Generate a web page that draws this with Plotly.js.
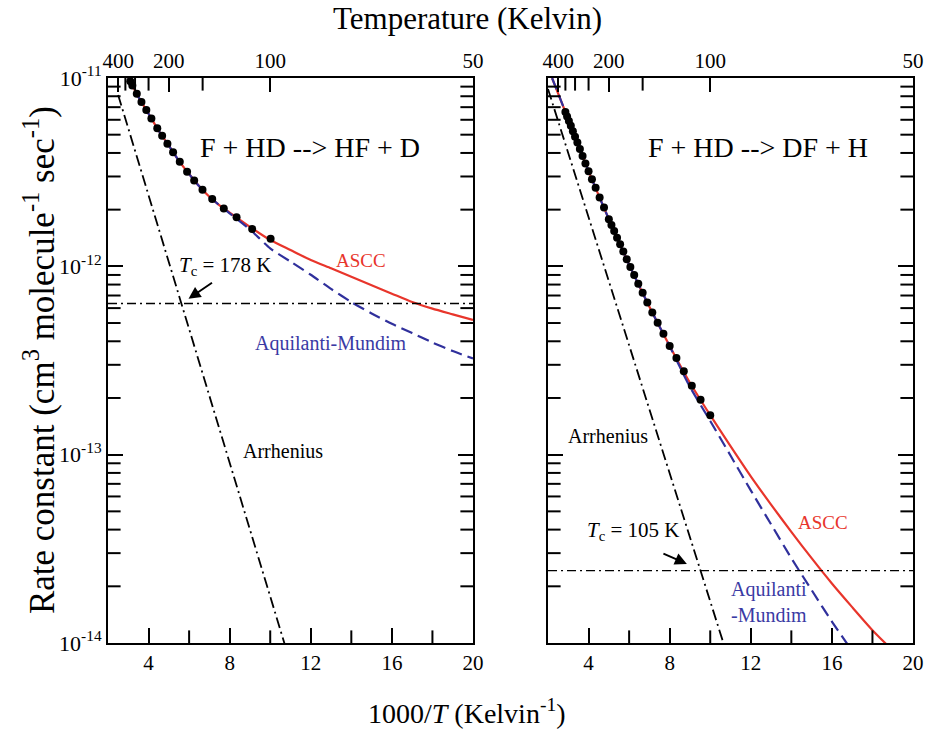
<!DOCTYPE html>
<html><head><meta charset="utf-8">
<script src="https://cdn.plot.ly/plotly-3.0.1.min.js"></script>
<style>html,body{margin:0;padding:0;background:#fff}</style>
</head><body><div id="chart" style="width:930px;height:735px"></div>
<script>
// ---------- Left panel: F + HD --> HF + D ----------
const leftCurveX = [3.0, 3.5, 4.0, 4.5, 5.0, 5.5, 6.0, 6.5, 7.0, 7.5, 8.0, 9.0, 10.0, 11.0, 12.0, 13.0, 14.0, 15.0, 16.0, 17.0, 18.0, 19.0, 20.0];
const leftAscc = [1.00e-11, 7.94e-12, 6.46e-12, 5.25e-12, 4.37e-12, 3.63e-12, 3.09e-12, 2.66e-12, 2.34e-12, 2.11e-12, 1.93e-12, 1.62e-12, 1.38e-12, 1.22e-12, 1.08e-12, 9.77e-13, 8.81e-13, 7.94e-13, 7.16e-13, 6.46e-13, 5.96e-13, 5.56e-13, 5.19e-13];
const leftAM   = [1.00e-11, 7.94e-12, 6.46e-12, 5.25e-12, 4.37e-12, 3.63e-12, 3.09e-12, 2.66e-12, 2.34e-12, 2.11e-12, 1.91e-12, 1.57e-12, 1.245e-12, 1.06e-12, 9.02e-13, 7.59e-13, 6.46e-13, 5.62e-13, 4.95e-13, 4.42e-13, 3.94e-13, 3.55e-13, 3.24e-13];
const leftDotsX = [3.10, 3.20, 3.42, 3.65, 3.89, 4.14, 4.43, 4.67, 4.93, 5.21, 5.54, 5.90, 6.25, 6.66, 7.14, 7.71, 8.34, 9.11, 10.02];
const leftDotsK = [9.60e-12, 9.12e-12, 8.24e-12, 7.46e-12, 6.76e-12, 6.10e-12, 5.41e-12, 4.93e-12, 4.48e-12, 4.04e-12, 3.59e-12, 3.18e-12, 2.86e-12, 2.55e-12, 2.28e-12, 2.03e-12, 1.82e-12, 1.58e-12, 1.40e-12];
const leftArrX = [2.5, 10.8];
const leftArrK = [8.13e-12, 9.18e-15];
const leftTcX = [2, 20];
const leftTcK = [6.35e-13, 6.35e-13];

// ---------- Right panel: F + HD --> DF + H ----------
const rightCurveX = [2.2, 3, 4, 5, 6, 7, 8, 9, 10, 11, 12, 13, 14, 15, 16, 17, 18, 19];
const rightAscc = [1.00e-11, 6.03e-12, 3.20e-12, 1.78e-12, 1.02e-12, 6.10e-13, 3.78e-13, 2.41e-13, 1.62e-13, 1.11e-13, 7.67e-14, 5.43e-14, 3.89e-14, 2.82e-14, 2.07e-14, 1.55e-14, 1.17e-14, 9.12e-15];
const rightAM   = [1.00e-11, 6.03e-12, 3.20e-12, 1.78e-12, 1.02e-12, 6.10e-13, 3.76e-13, 2.29e-13, 1.51e-13, 9.89e-14, 6.46e-14, 4.27e-14, 2.82e-14, 1.91e-14, 1.30e-14, 9.12e-15, 7.0e-15, 6.0e-15];
const rightDotsX = [2.857, 2.941, 3.030, 3.125, 3.226, 3.333, 3.448, 3.571, 3.704, 3.846, 4.0, 4.167, 4.348, 4.545, 4.762, 5.0, 5.128, 5.263, 5.405, 5.556, 5.714, 5.882, 6.061, 6.25, 6.452, 6.667, 6.897, 7.143, 7.407, 7.692, 8.0, 8.333, 8.696, 9.091, 9.524, 10.0];
const rightDotsK = [6.59e-12, 6.25e-12, 5.92e-12, 5.57e-12, 5.22e-12, 4.88e-12, 4.54e-12, 4.20e-12, 3.85e-12, 3.52e-12, 3.20e-12, 2.90e-12, 2.61e-12, 2.32e-12, 2.05e-12, 1.78e-12, 1.66e-12, 1.54e-12, 1.42e-12, 1.31e-12, 1.20e-12, 1.09e-12, 9.91e-13, 8.99e-13, 8.09e-13, 7.24e-13, 6.43e-13, 5.69e-13, 5.02e-13, 4.39e-13, 3.78e-13, 3.26e-13, 2.77e-13, 2.32e-13, 1.96e-13, 1.62e-13];
const rightArrX = [2.0, 10.7];
const rightArrK = [8.73e-12, 9.62e-15];
const rightTcX = [2, 20];
const rightTcK = [2.42e-14, 2.42e-14];

// ---------- Axis ticks ----------
const xTickVals = [4, 8, 12, 16, 20];
const xMinorVals = [6, 10, 14, 18];
const yTickVals = [1e-14, 1e-13, 1e-12, 1e-11];
const yTickText = ['10<sup>-14</sup>', '10<sup>-13</sup>', '10<sup>-12</sup>', '10<sup>-11</sup>'];
const yMinorVals = [];
[1e-14, 1e-13, 1e-12].forEach(d => { for (let m = 2; m <= 9; m++) yMinorVals.push(m * d); });
const tempMajor = [400, 200, 100, 50];
const tempMinor = [350, 300, 250, 150];

const RED = '#e8352b', BLUE = '#30309c', BLUE_TXT = '#3a3aa4';
const FONT = '"Liberation Serif", "Times New Roman", Times, serif';
const DASHDOT = '11px,4px,2px,4px';
const TCDASH = '9px,4px,2px,4px';

function panel(xa, ya, xt, X, A, M, DX, DK, AX, AK, TX, TK) {
  return [
    {x: X, y: A, xaxis: xa, yaxis: ya, mode: 'lines', line: {color: RED, width: 2.2, shape: 'spline', smoothing: 0.6}, hoverinfo: 'skip'},
    {x: X, y: M, xaxis: xa, yaxis: ya, mode: 'lines', line: {color: BLUE, width: 2.2, dash: '12px,6px', shape: 'spline', smoothing: 0.6}, hoverinfo: 'skip'},
    {x: AX, y: AK, xaxis: xa, yaxis: ya, mode: 'lines', line: {color: '#000', width: 1.8, dash: DASHDOT}, hoverinfo: 'skip'},
    {x: TX, y: TK, xaxis: xt, yaxis: ya, mode: 'lines', line: {color: '#000', width: 1.3, dash: TCDASH}, hoverinfo: 'skip'},
    {x: DX, y: DK, xaxis: xa, yaxis: ya, mode: 'markers', marker: {color: '#000', size: 8}, hoverinfo: 'skip'}
  ];
}

const data = [
  ...panel('x', 'y', 'x3', leftCurveX, leftAscc, leftAM, leftDotsX, leftDotsK, leftArrX, leftArrK, leftTcX, leftTcK),
  ...panel('x2', 'y2', 'x4', rightCurveX, rightAscc, rightAM, rightDotsX, rightDotsK, rightArrX, rightArrK, rightTcX, rightTcK)
];

const TICKFONT = {family: FONT, size: 21, color: '#000'};
const common = {showline: true, linewidth: 2, linecolor: '#000', tickcolor: '#000', showgrid: false, zeroline: false, fixedrange: true, tickfont: TICKFONT};

function bottomAxis(domain, anchor) {
  return Object.assign({}, common, {domain, anchor, range: [2, 20], ticks: 'inside', ticklen: 15, tickwidth: 2,
    tickmode: 'array', tickvals: xTickVals});
}
function topAxis(over, anchor) {
  return Object.assign({}, common, {overlaying: over, anchor, side: 'top', range: [2, 20], ticks: 'inside', ticklen: 14, tickwidth: 2,
    tickmode: 'array', tickvals: tempMajor.map(t => 1000 / t), ticktext: tempMajor.map(String)});
}
function yAxis(anchor, labels) {
  return Object.assign({}, common, {anchor, type: 'log', range: [-14, -11], mirror: 'ticks', ticks: 'inside', ticklen: 15, tickwidth: 2,
    tickmode: 'array', tickvals: yTickVals, ticktext: yTickText, showticklabels: labels,
    tickfont: {family: FONT, size: 22, color: '#000'}});
}

// minor tick marks: short line markers centred on the panel edges, half clipped away by the plot area
const MINOR = 18;  // marker size -> 9 px visible inside the frame
function edgeTicks(xa, ya) {
  const edgeL = yMinorVals.map(() => 2), edgeR = yMinorVals.map(() => 20);
  const bot = xMinorVals.map(() => 1e-14), top = tempMinor.map(() => 1e-11);
  const mk = (sym) => ({symbol: sym, size: MINOR, color: '#000', line: {color: '#000', width: 2}});
  return [
    {x: edgeL, y: yMinorVals, xaxis: xa, yaxis: ya, mode: 'markers', marker: mk('line-ew'), cliponaxis: true, hoverinfo: 'skip'},
    {x: edgeR, y: yMinorVals, xaxis: xa, yaxis: ya, mode: 'markers', marker: mk('line-ew'), cliponaxis: true, hoverinfo: 'skip'},
    {x: xMinorVals, y: bot, xaxis: xa, yaxis: ya, mode: 'markers', marker: mk('line-ns'), cliponaxis: true, hoverinfo: 'skip'},
    {x: tempMinor.map(t => 1000 / t), y: top, xaxis: xa, yaxis: ya, mode: 'markers', marker: mk('line-ns'), cliponaxis: true, hoverinfo: 'skip'}
  ];
}
data.push(...edgeTicks('x', 'y'), ...edgeTicks('x2', 'y2'));

function lbl(xref, yref, x, logy, text, size, color, extra) {
  return Object.assign({xref, yref, x, y: logy, text, showarrow: false, xanchor: 'center', yanchor: 'middle', font: {family: FONT, size, color}}, extra || {});
}

const annotations = [
  // titles
  {xref: 'paper', yref: 'paper', x: 0.446, y: 1.106, xanchor: 'center', yanchor: 'middle', text: 'Temperature (Kelvin)', showarrow: false, font: {family: FONT, size: 31, color: '#000'}},
  {xref: 'paper', yref: 'paper', x: 0.446, y: -0.122, xanchor: 'center', yanchor: 'middle', text: '1000/<i>T</i> (Kelvin<sup>-1</sup>)', showarrow: false, font: {family: FONT, size: 28, color: '#000'}},
  {xref: 'paper', yref: 'paper', x: -0.085, y: 0.5, xanchor: 'center', yanchor: 'middle', textangle: -90, text: 'Rate constant (cm<sup>3</sup> molecule<sup>-1</sup> sec<sup>-1</sup>)', showarrow: false, font: {family: FONT, size: 35, color: '#000'}},
  // left panel
  lbl('x', 'y', 11.98, -11.367, 'F + HD --> HF + D', 28, '#000'),
  lbl('x', 'y', 14.49, -11.968, 'ASCC', 19, RED),
  lbl('x', 'y', 13.01, -12.41, 'Aquilanti-Mundim', 20, BLUE_TXT),
  lbl('x', 'y', 10.64, -12.98, 'Arrhenius', 20, '#000'),
  lbl('x', 'y', 5.41, -12.0, '<i>T</i><sub>c</sub> = 178 K', 21, '#000', {xanchor: 'left'}),
  {xref: 'x', yref: 'y', x: 5.97, y: -12.172, ax: 25, ay: -17, text: '', showarrow: true, arrowhead: 2, arrowsize: 1.2, arrowwidth: 2, arrowcolor: '#000'},
  // right panel
  lbl('x2', 'y2', 12.34, -11.367, 'F + HD --> DF + H', 28, '#000'),
  lbl('x2', 'y2', 4.97, -12.899, 'Arrhenius', 20, '#000'),
  lbl('x2', 'y2', 3.84, -13.404, '<i>T</i><sub>c</sub> = 105 K', 21, '#000', {xanchor: 'left'}),
  {xref: 'x2', yref: 'y2', x: 8.85, y: -13.58, ax: -25, ay: -11, text: '', showarrow: true, arrowhead: 2, arrowsize: 1.2, arrowwidth: 2, arrowcolor: '#000'},
  lbl('x2', 'y2', 15.56, -13.36, 'ASCC', 19, RED),
  lbl('x2', 'y2', 10.93, -13.78, 'Aquilanti<br>-Mundim', 20, BLUE_TXT, {xanchor: 'left', align: 'left'})
];

const layout = {
  width: 930, height: 735,
  margin: {l: 108, r: 17, t: 78, b: 92},
  paper_bgcolor: '#fff', plot_bgcolor: '#fff',
  showlegend: false,
  font: {family: FONT, color: '#000'},
  xaxis: bottomAxis([0, 0.4534], 'y'),
  yaxis: yAxis('x', true),
  xaxis2: bottomAxis([0.5466, 1], 'y2'),
  yaxis2: yAxis('x2', false),
  xaxis3: topAxis('x', 'y'),
  xaxis4: topAxis('x2', 'y2'),
  annotations
};

Plotly.newPlot('chart', data, layout, {displayModeBar: false, staticPlot: true});
</script>
</body></html>
